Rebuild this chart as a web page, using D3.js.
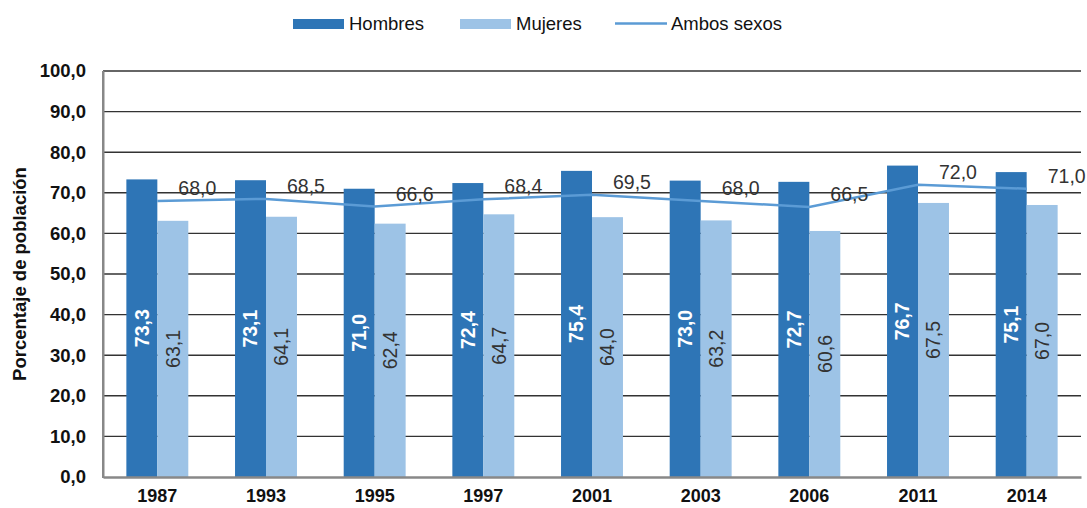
<!DOCTYPE html>
<html><head><meta charset="utf-8">
<script src="https://cdn.jsdelivr.net/npm/d3@7"></script>
<style>html,body{margin:0;padding:0;background:#fff;}svg{display:block;font-family:"Liberation Sans",Arial,Helvetica,sans-serif;}</style>
</head><body>
<svg id="chart" width="1087" height="508"></svg>
<script>
const years = ["1987","1993","1995","1997","2001","2003","2006","2011","2014"];
const hombres = [73.3,73.1,71.0,72.4,75.4,73.0,72.7,76.7,75.1];
const mujeres = [63.1,64.1,62.4,64.7,64.0,63.2,60.6,67.5,67.0];
const ambos = [68.0,68.5,66.6,68.4,69.5,68.0,66.5,72.0,71.0];
const yTicks = [0,10,20,30,40,50,60,70,80,90,100];
const seriesNames = ["Hombres","Mujeres","Ambos sexos"];

const C_H = "#2E75B6", C_M = "#9DC3E6", C_A = "#5B9BD5";
const fmt = v => v.toFixed(1).replace(".", ",");
const svg = d3.select("#chart");
const pLeft = 103, pRight = 1081, pTop = 71, pBottom = 477;

const x = d3.scaleBand().domain(years).range([pLeft, pRight]).paddingInner(0.43).paddingOuter(0.215);
const y = d3.scaleLinear().domain([0,100]).range([pBottom, pTop]);
const sub = d3.scaleBand().domain(["h","m"]).range([0, x.bandwidth()]);
const cx = d => x(d) + x.bandwidth()/2;

// gridlines
svg.append("g").selectAll("line").data(yTicks.filter(t=>t>0)).join("line")
  .attr("x1", pLeft).attr("x2", pRight)
  .attr("y1", d=>y(d)).attr("y2", d=>y(d))
  .attr("stroke", "#333").attr("stroke-width", 1.4);

// y axis
const yAxis = d3.axisLeft(y).tickValues(yTicks).tickFormat(fmt).tickSize(0).tickPadding(17);
const gy = svg.append("g").attr("transform", `translate(${pLeft},0)`).call(yAxis);
gy.select(".domain").attr("stroke", "#888").attr("stroke-width", 2);
gy.selectAll("text").attr("font-size", 18.5).attr("font-weight", "bold").attr("fill", "#111")
  .attr("font-family", '"Liberation Sans",Arial,sans-serif');

// bars
svg.append("g").selectAll("rect").data(years).join("rect")
  .attr("x", d=>x(d)+sub("h")).attr("width", sub.bandwidth())
  .attr("y", (d,i)=>y(hombres[i])).attr("height", (d,i)=>pBottom - y(hombres[i]))
  .attr("fill", C_H);
svg.append("g").selectAll("rect").data(years).join("rect")
  .attr("x", d=>x(d)+sub("m")).attr("width", sub.bandwidth())
  .attr("y", (d,i)=>y(mujeres[i])).attr("height", (d,i)=>pBottom - y(mujeres[i]))
  .attr("fill", C_M);

// x axis
const xAxis = d3.axisBottom(x).tickSize(0).tickPadding(12);
const gx = svg.append("g").attr("transform", `translate(0,${pBottom})`).call(xAxis);
gx.select(".domain").attr("stroke", "#888").attr("stroke-width", 2.5);
gx.selectAll("text").attr("font-size", 18).attr("font-weight", "bold").attr("fill", "#111")
  .attr("font-family", '"Liberation Sans",Arial,sans-serif');
svg.append("line").attr("x1", pLeft).attr("x2", pLeft).attr("y1", pTop).attr("y2", pBottom+1)
  .attr("stroke", "#888").attr("stroke-width", 2);

// bar labels
svg.append("g").selectAll("text").data(years).join("text")
  .attr("transform", (d,i)=>`translate(${x(d)+sub("h")+sub.bandwidth()/2},${y(hombres[i]/2)}) rotate(-90)`)
  .attr("text-anchor", "middle").attr("dy", "0.35em")
  .attr("font-size", 19.5).attr("font-weight", "bold").attr("fill", "#fff")
  .text((d,i)=>fmt(hombres[i]));
svg.append("g").selectAll("text").data(years).join("text")
  .attr("transform", (d,i)=>`translate(${x(d)+sub("m")+sub.bandwidth()/2},${y(mujeres[i]/2)}) rotate(-90)`)
  .attr("text-anchor", "middle").attr("dy", "0.35em")
  .attr("font-size", 19.5).attr("fill", "#333")
  .text((d,i)=>fmt(mujeres[i]));

// line
const line = d3.line().x(d=>cx(d[0])).y(d=>y(d[1]));
svg.append("path").datum(years.map((d,i)=>[d, ambos[i]]))
  .attr("d", line).attr("fill", "none").attr("stroke", C_A).attr("stroke-width", 2.5);
svg.append("g").selectAll("text").data(years).join("text")
  .attr("x", d=>cx(d)+40).attr("y", (d,i)=>y(ambos[i]) - 6)
  .attr("text-anchor", "middle").attr("font-size", 19.5).attr("fill", "#333")
  .text((d,i)=>fmt(ambos[i]));

// y title
svg.append("text").attr("transform", `translate(26,${(pTop+pBottom)/2}) rotate(-90)`)
  .attr("text-anchor", "middle").attr("font-size", 18.5).attr("font-weight", "bold").attr("fill", "#111")
  .text("Porcentaje de población");

// legend
const leg = svg.append("g");
const legX = [293, 460, 615];
seriesNames.forEach((name, i) => {
  const g = leg.append("g").attr("transform", `translate(${legX[i]},0)`);
  if (i < 2) g.append("rect").attr("x", 0).attr("y", 19).attr("width", 51).attr("height", 10).attr("fill", i===0?C_H:C_M);
  else g.append("line").attr("x1", 0).attr("x2", 52).attr("y1", 23.5).attr("y2", 23.5).attr("stroke", C_A).attr("stroke-width", 2.5);
  g.append("text").attr("x", 56).attr("y", 30).attr("font-size", 18.5).attr("fill", "#111").text(name);
});
</script>
</body></html>
